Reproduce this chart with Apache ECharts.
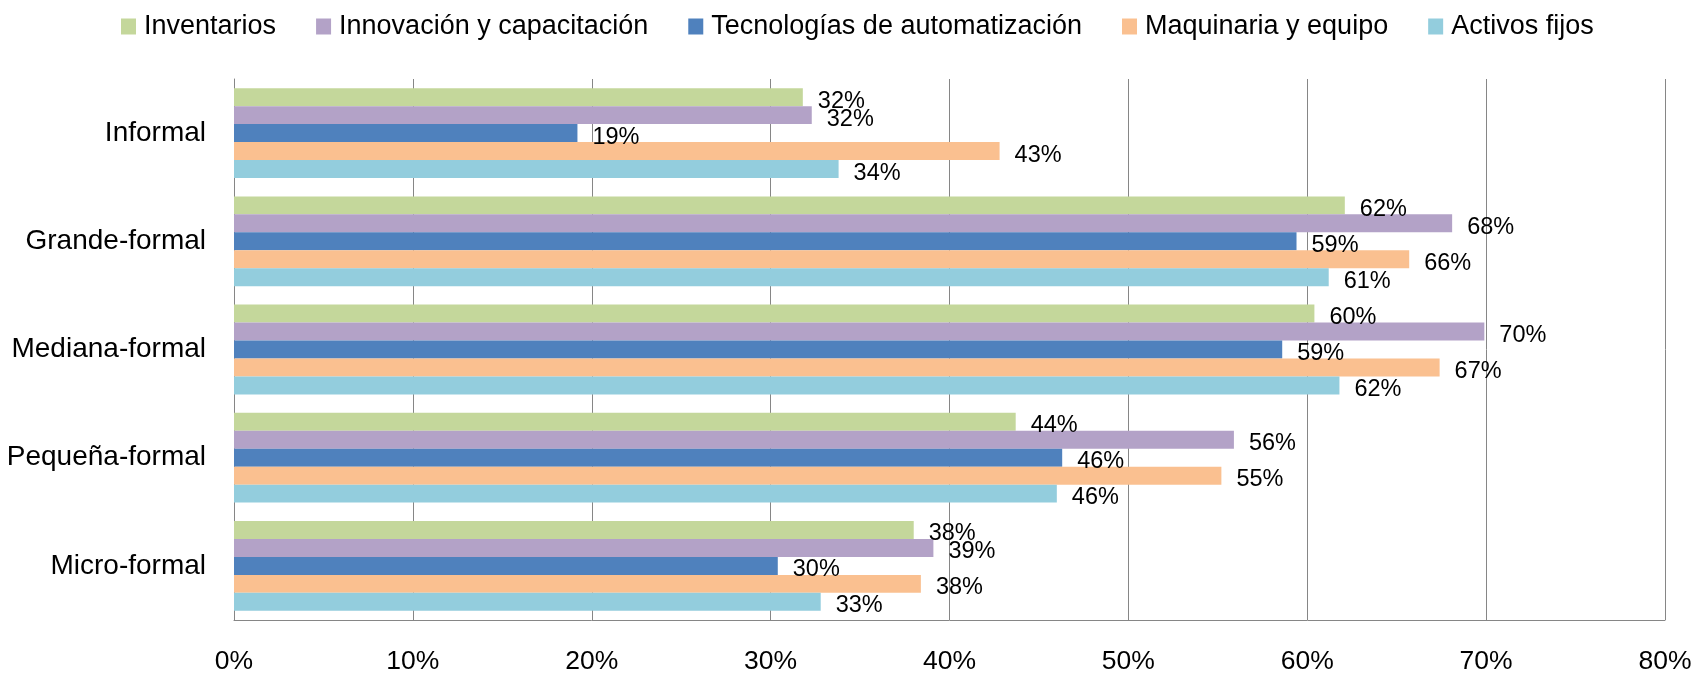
<!DOCTYPE html>
<html>
<head>
<meta charset="utf-8">
<script src="https://cdn.jsdelivr.net/npm/echarts@6/dist/echarts.min.js"></script>
<style>
html,body{margin:0;padding:0;background:#fff;}
#chart{width:1696px;height:675px;}
</style>
</head>
<body>
<div id="chart"></div>
<script>
var categories = ['Informal', 'Grande-formal', 'Mediana-formal', 'Pequeña-formal', 'Micro-formal'];
var seriesNames = ['Inventarios', 'Innovación y capacitación', 'Tecnologías de automatización', 'Maquinaria y equipo', 'Activos fijos'];
var inventarios = [31.8, 62.1, 60.4, 43.7, 38.0];
var innovacion = [32.3, 68.1, 69.9, 55.9, 39.1];
var tecnologias = [19.2, 59.4, 58.6, 46.3, 30.4];
var maquinaria = [42.8, 65.7, 67.4, 55.2, 38.4];
var activos = [33.8, 61.2, 61.8, 46.0, 32.8];
var xTicks = [0, 10, 20, 30, 40, 50, 60, 70, 80];
var colors = ['#C4D79B', '#B3A2C7', '#4F81BD', '#FAC090', '#93CDDD'];

var FONT = 'Liberation Sans';
var allData = [inventarios, innovacion, tecnologias, maquinaria, activos];

var chart = echarts.init(document.getElementById('chart'));
var series = allData.map(function (d, i) {
  return {
    name: seriesNames[i],
    type: 'bar',
    data: d,
    barCategoryGap: '17%',
    barGap: '0%',
    itemStyle: { color: colors[i] },
    label: {
      show: true,
      position: 'right',
      distance: 15,
      offset: [0, 4],
      color: '#000',
      fontFamily: FONT,
      fontSize: 23.5,
      formatter: function (p) { return Math.round(p.value) + '%'; }
    }
  };
});

chart.setOption({
  animation: false,
  backgroundColor: '#fff',
  color: colors,
  legend: {
    data: seriesNames,
    left: 116,
    top: 8,
    itemWidth: 15,
    itemHeight: 16,
    itemGap: 40,
    icon: 'rect',
    textStyle: { fontFamily: FONT, fontSize: 27, color: '#000', padding: [0, 0, 0, 3] }
  },
  grid: { left: 234, right: 31, top: 79, bottom: 52, containLabel: false },
  xAxis: {
    type: 'value',
    min: xTicks[0],
    max: xTicks[xTicks.length - 1],
    interval: 10,
    axisLine: { show: true, lineStyle: { color: '#868686', width: 1 } },
    axisTick: { show: false },
    splitLine: { show: true, lineStyle: { color: '#868686', width: 1 } },
    axisLabel: {
      fontFamily: FONT, fontSize: 26.5, color: '#000', margin: 28,
      formatter: '{value}%'
    }
  },
  yAxis: {
    type: 'category',
    data: categories,
    inverse: true,
    axisLine: { show: true, lineStyle: { color: '#868686', width: 1 } },
    axisTick: { show: false },
    axisLabel: { fontFamily: FONT, fontSize: 28, color: '#000', margin: 28, padding: [6, 0, 0, 0] }
  },
  series: series
});
</script>
</body>
</html>
